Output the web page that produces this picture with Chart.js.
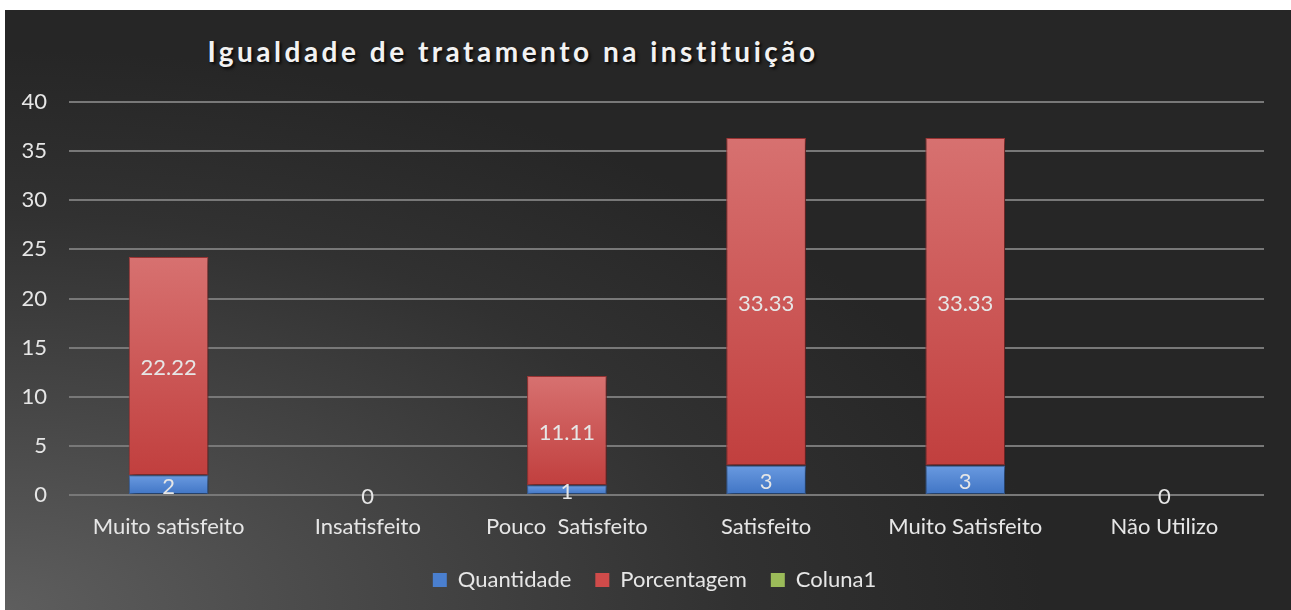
<!DOCTYPE html>
<html>
<head>
<meta charset="utf-8">
<script src="https://cdn.jsdelivr.net/npm/chart.js@4/dist/chart.umd.min.js"></script>
<style>
  html, body { margin: 0; padding: 0; background: #ffffff; }
  #box {
    position: absolute; left: 5px; top: 10px; width: 1286px; height: 600px;
    background: radial-gradient(ellipse 95% 110% at 0% 100%, #5e5e5e 0%, #474747 30%, #313131 60%, #262626 85%);
  }
  #titulo {
    position: absolute; left: 0; top: 24px; width: 1016px; text-align: center;
    font-family: Lato, "Open Sans", sans-serif; font-weight: bold; font-size: 28px;
    letter-spacing: 3.5px; color: #f2f2f2; text-shadow: 2px 2px 3px rgba(0,0,0,0.8);
  }
  #grafico { position: absolute; left: 0; top: 0; }
</style>
</head>
<body>
<div id="box">
  <div id="titulo">Igualdade de tratamento na instituição</div>
  <canvas id="grafico" width="1286" height="600"></canvas>
</div>
<script>
const categorias = ['Muito satisfeito', 'Insatisfeito', 'Pouco  Satisfeito', 'Satisfeito', 'Muito Satisfeito', 'Não Utilizo'];
const quantidade = [2, 0, 1, 3, 3, 0];
const porcentagem = [22.22, 0, 11.11, 33.33, 33.33, 0];
const coluna1 = [null, null, null, null, null, null];
const ticksY = [0, 5, 10, 15, 20, 25, 30, 35, 40];

const FONTE = 'Lato, "Open Sans", sans-serif';

// gradiente por barra (mais claro no topo)
function gradiente(ctx, claro, escuro) {
  const chart = ctx.chart;
  const y = chart.scales && chart.scales.y;
  if (!y || ctx.type !== 'data') return escuro;
  let base = 0;
  for (let i = 0; i < ctx.datasetIndex; i++) base += chart.data.datasets[i].data[ctx.dataIndex] || 0;
  const topo = base + (ctx.raw || 0);
  const y0 = y.getPixelForValue(base);
  const y1 = y.getPixelForValue(topo);
  if (!isFinite(y0) || !isFinite(y1) || y0 === y1) return escuro;
  const g = chart.ctx.createLinearGradient(0, y1, 0, y0);
  g.addColorStop(0, claro);
  g.addColorStop(1, escuro);
  return g;
}

const sombraBarras = {
  id: 'sombraBarras',
  beforeDatasetsDraw(chart) {
    const c = chart.ctx;
    c.save();
    c.shadowColor = 'rgba(0,0,0,0.55)';
    c.shadowBlur = 6;
    c.shadowOffsetX = 2;
    c.shadowOffsetY = 2;
  },
  afterDatasetsDraw(chart) {
    chart.ctx.restore();
  }
};

// a legenda fica centrada na caixa toda, não só na área do gráfico
const legendaCentro = {
  id: 'legendaCentro',
  afterLayout(chart) {
    chart.legend.left += 20;
    chart.legend.right += 20;
  }
};

const rotulos = {
  id: 'rotulos',
  afterDatasetsDraw(chart) {
    const c = chart.ctx;
    c.save();
    c.font = 'normal 22px Lato, "Open Sans", sans-serif';
    c.fillStyle = '#e6e6e6';
    c.textAlign = 'center';
    c.textBaseline = 'middle';
    chart.data.datasets.forEach((ds, di) => {
      if (di > 1) return;
      chart.getDatasetMeta(di).data.forEach((bar, i) => {
        const v = ds.data[i];
        if (v == null) return;
        if (di === 1 && v === 0) return;
        const meio = (bar.y + bar.base) / 2;
        c.fillText(String(v), bar.x, meio + 2);
      });
    });
    c.restore();
  }
};

new Chart(document.getElementById('grafico'), {
  type: 'bar',
  data: {
    labels: categorias,
    datasets: [
      {
        label: 'Quantidade',
        data: quantidade,
        backgroundColor: ctx => gradiente(ctx, '#6a9ae0', '#3f74c4'),
        borderColor: '#3b67a8',
        borderWidth: 1,
        borderSkipped: false,
        categoryPercentage: 0.8,
        barPercentage: 0.5
      },
      {
        label: 'Porcentagem',
        data: porcentagem,
        backgroundColor: ctx => gradiente(ctx, '#d77170', '#c13f3e'),
        borderColor: '#a83838',
        borderWidth: 1,
        borderSkipped: false,
        categoryPercentage: 0.8,
        barPercentage: 0.5
      },
      {
        label: 'Coluna1',
        data: coluna1,
        backgroundColor: '#9bbb59',
        borderColor: '#9bbb59',
        categoryPercentage: 0.8,
        barPercentage: 0.5
      }
    ]
  },
  options: {
    responsive: false,
    animation: false,
    layout: { padding: { left: 0, right: 27, top: 92, bottom: 9 } },
    plugins: {
      title: { display: false },
      tooltip: { enabled: false },
      legend: {
        position: 'bottom',
        labels: {
          color: '#e6e6e6',
          font: { family: FONTE, size: 22 },
          boxWidth: 14,
          boxHeight: 14,
          padding: 24,
          useBorderRadius: false,
          generateLabels(chart) {
            const cores = ['#4a7fcf', '#cf4b4a', '#9bbb59'];
            return chart.data.datasets.map((ds, i) => ({
              text: ds.label,
              fillStyle: cores[i],
              strokeStyle: cores[i],
              lineWidth: 0,
              fontColor: '#e6e6e6',
              datasetIndex: i
            }));
          }
        }
      }
    },
    scales: {
      x: {
        stacked: true,
        grid: { display: false, drawTicks: false },
        border: { display: false },
        ticks: { color: '#e6e6e6', font: { family: FONTE, size: 22 }, padding: 19, maxRotation: 0 },
        afterFit(s) { s.height = 50; }
      },
      y: {
        stacked: true,
        min: 0,
        max: 40,
        afterBuildTicks(s) { s.ticks = ticksY.map(v => ({ value: v })); },
        grid: { color: '#787878', lineWidth: 2, drawTicks: false },
        border: { display: false },
        ticks: { color: '#e6e6e6', font: { family: FONTE, size: 22 }, padding: 22 },
        afterFit(s) { s.width = 64; }
      }
    }
  },
  plugins: [sombraBarras, legendaCentro, rotulos]
});
</script>
</body>
</html>
